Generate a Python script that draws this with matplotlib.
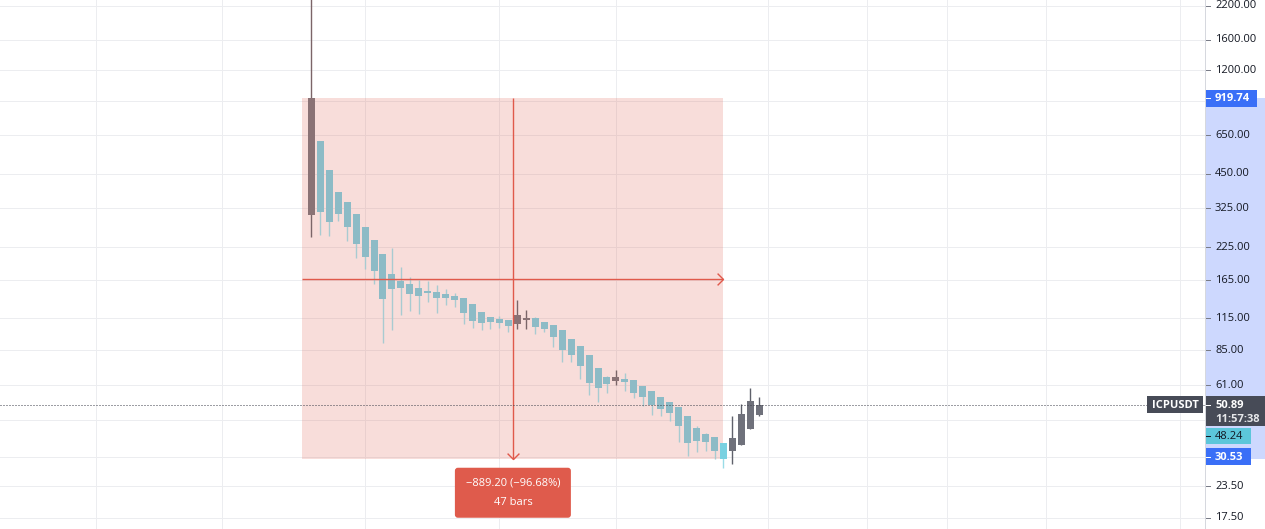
import numpy as np
import matplotlib
matplotlib.use("Agg")
import matplotlib.pyplot as plt
from matplotlib.patches import Rectangle, FancyBboxPatch
from matplotlib.path import Path

plt.rcParams['font.family'] = ['Open Sans', 'DejaVu Sans']

# ---------------- data (Heikin Ashi daily candles, ICPUSDT) ----------------
opens = [305.3, 614.3, 467.0, 379.5, 345.2, 308.3, 272.7, 241.1, 211.3, 174.9,
         163.7, 159.1, 153.2, 149.4, 147.5, 144.7, 142.0, 139.4, 131.7, 122.1,
         116.5, 114.6, 113.6, 109.3, 113.1, 115.3, 111.1, 108.0, 103.0, 94.6,
         88.6, 81.3, 71.9, 66.1, 63.8, 64.8, 64.2, 60.7, 57.9, 54.7,
         52.2, 49.8, 45.7, 40.8, 38.6, 37.5, 35.4, 32.9, 34.8, 40.5, 46.3]
highs = [2850.0, 614.3, 467.0, 379.5, 345.2, 308.3, 272.7, 241.1, 211.3, 223.6,
         186.8, 170.0, 165.2, 163.7, 157.6, 151.8, 146.1, 139.4, 131.7, 122.1,
         116.5, 117.9, 113.6, 136.8, 124.5, 116.5, 111.1, 108.0, 103.0, 94.6,
         88.6, 81.3, 71.9, 66.7, 70.6, 68.6, 64.2, 60.7, 57.9, 54.7,
         52.2, 49.8, 45.7, 41.7, 39.0, 37.5, 35.4, 45.7, 51.3, 59.6, 54.7]
lows = [248.7, 252.7, 250.4, 289.3, 239.4, 204.0, 183.4, 159.1, 91.4, 103.3,
        119.0, 123.6, 120.2, 134.6, 121.3, 130.8, 128.4, 109.3, 105.3, 103.3,
        104.3, 105.3, 101.4, 104.3, 104.0, 99.5, 101.4, 88.0, 76.3, 76.3,
        65.0, 55.9, 52.3, 57.0, 61.4, 58.0, 54.3, 50.4, 46.3, 45.8,
        43.7, 35.8, 31.4, 32.6, 32.9, 30.5, 28.1, 29.1, 34.8, 40.5, 45.8]
closes = [919.74, 315.0, 286.7, 309.2, 273.5, 232.8, 205.9, 180.4, 138.5, 152.2,
          153.7, 145.2, 142.4, 146.5, 139.8, 139.8, 137.2, 121.3, 112.5, 110.4,
          111.4, 110.4, 107.3, 118.7, 115.3, 106.4, 104.3, 96.7, 85.5, 81.6,
          73.5, 62.6, 59.7, 62.0, 66.1, 63.2, 57.0, 54.9, 50.9, 49.0,
          47.2, 41.7, 35.5, 36.2, 35.8, 32.9, 30.53, 37.1, 46.7, 52.7, 50.89]

range_start_bar = -1
range_end_bar = 46
range_start_price = 919.74
range_end_price = 30.53
range_text = "\u2212889.20 (\u221296.68%)"
bars_text = "47 bars"

last_price = 50.89
countdown = "11:57:38"
symbol = "ICPUSDT"
aux_label = "48.24"

tick_values = [17.5, 23.5, 31.0, 44.0, 61.0, 85.0, 115.0, 165.0, 225.0, 325.0,
               450.0, 650.0, 900.0, 1200.0, 1600.0, 2200.0]
hidden_ticks = [31.0, 44.0, 900.0]
vgrid_bars = [-24, -10, 6, 21, 34, 51, 62, 71, 82, 97]

# ---------------- colours ----------------
GRID = '#ECEDF0'
PINK = '#E0584A'
RED = '#E0594B'
TEAL_IN, TEAL_IN_W = '#8DBBC6', '#A8CBD1'
GREY_IN, GREY_IN_W = '#8A7275', '#7B6568'
GREY_OUT, GREY_OUT_W = '#6F717B', '#5F616B'
CYAN, CYAN_W = '#79D1E1', '#9ADCE7'
TXT = '#131722'

W, H = 1265, 529
AXW = 1205
fig = plt.figure(figsize=(W / 100, H / 100), dpi=100)
fig.patch.set_facecolor('white')
ax = fig.add_axes([0, 0, AXW / W, 1])
ax.set_yscale('log')
ax.set_xlim(-34.74, 99.74)
ax.set_ylim(15.72, 2328)
ax.axis('off')

px = 0.72  # one pixel in points

# grid
ax.hlines(tick_values, -40, 110, color=GRID, lw=px, zorder=0)
ax.vlines(vgrid_bars, 10, 3000, color=GRID, lw=px, zorder=0)

# range box
ax.add_patch(Rectangle((range_start_bar, range_end_price),
                       range_end_bar - range_start_bar,
                       range_start_price - range_end_price,
                       facecolor=PINK, alpha=0.2, edgecolor='none', zorder=1))

# candles
n = len(opens)
x = np.arange(n)
o = np.array(opens); c = np.array(closes)
hi = np.array(highs); lo = np.array(lows)
up = c >= o
body_c, wick_c = [], []
for i in range(n):
    inside = range_start_bar <= i < range_end_bar
    if up[i]:
        body_c.append(GREY_IN if inside else GREY_OUT)
        wick_c.append(GREY_IN_W if inside else GREY_OUT_W)
    else:
        body_c.append(TEAL_IN if inside else CYAN)
        wick_c.append(TEAL_IN_W if inside else CYAN_W)
ax.vlines(x, lo, hi, colors=wick_c, lw=1.0, zorder=2)
bot = np.minimum(o, c); top = np.maximum(o, c)
ax.bar(x, top - bot, bottom=bot, width=0.78, color=body_c, edgecolor='none', zorder=3)

# measuring lines
mid_x = (range_start_bar + range_end_bar) / 2
mid_y = np.sqrt(range_start_price * range_end_price)
ax.vlines(mid_x, range_end_price, range_start_price, color=RED, lw=1.0, zorder=4)
ax.hlines(mid_y, range_start_bar, range_end_bar, color=RED, lw=1.0, zorder=4)
down_chev = Path([(-1, 1), (0, 0), (1, 1)], [Path.MOVETO, Path.LINETO, Path.LINETO])
right_chev = Path([(-1, 1), (0, 0), (-1, -1)], [Path.MOVETO, Path.LINETO, Path.LINETO])
ax.plot([mid_x], [range_end_price], marker=down_chev, ms=8.5, mfc='none', mec=RED, mew=1.0, zorder=4)
ax.plot([range_end_bar], [mid_y], marker=right_chev, ms=8.5, mfc='none', mec=RED, mew=1.0, zorder=4)

# last price dotted line
ax.axhline(last_price, color='#3C3F4A', lw=px, ls=(0, (1, 2)), zorder=5)

# ---------------- pixel overlay ----------------
ov = fig.add_axes([0, 0, 1, 1])
ov.set_xlim(0, W)
ov.set_ylim(H, 0)
ov.axis('off')
ov.set_zorder(10)

def py(p):
    return H - ax.transData.transform((0, p))[1]

def pxx(b):
    return ax.transData.transform((b, 100))[0]

# axis border
ov.plot([AXW, AXW], [0, H], color='#D6D8DE', lw=px)
# highlighted price range on axis
y1, y2 = py(range_start_price), py(range_end_price)
ov.add_patch(Rectangle((AXW, y1), W - AXW, y2 - y1, facecolor='#CDD8FE', edgecolor='none'))

for v in tick_values:
    if v in hidden_ticks:
        continue
    yy = py(v)
    ov.plot([AXW + 1, AXW + 5], [yy, yy], color='#787B86', lw=px)
    ov.text(AXW + 10, yy, f"{v:.2f}", fontsize=8, color=TXT, ha='left', va='center')

def axis_label(yc, text, bg, fg, w, bold=True, h=16.5):
    ov.add_patch(Rectangle((AXW, yc - h / 2), w, h, facecolor=bg, edgecolor='none'))
    ov.plot([AXW + 1, AXW + 5], [yc, yc], color=fg, lw=px)
    ov.text(AXW + 10, yc + 0.5, text, fontsize=8, color=fg, ha='left', va='center',
            fontweight='bold' if bold else 'normal')

axis_label(py(range_start_price), f"{range_start_price:.2f}", '#3A6FF7', 'white', 52)
axis_label(py(range_end_price) - 2, f"{range_end_price:.2f}", '#3A6FF7', 'white', 46)

# last price block
yl = py(last_price)
ov.add_patch(Rectangle((AXW, yl - 8.5), W - AXW, 30, facecolor='#474B57', edgecolor='none'))
ov.plot([AXW + 1, AXW + 5], [yl, yl], color='white', lw=px)
ov.text(AXW + 10, yl + 0.5, f"{last_price:.2f}", fontsize=8, color='white', ha='left',
        va='center', fontweight='bold')
ov.text(AXW + 10, yl + 14.5, countdown, fontsize=8, color='#E6E7EA', ha='left',
        va='center', fontweight='bold')
axis_label(yl + 31.5, aux_label, '#5CC6DA', TXT, 46, bold=False)

# symbol label
ov.add_patch(Rectangle((1147, yl - 8.5), 56, 17, facecolor='#474B57', edgecolor='none'))
ov.text(1175, yl + 0.5, symbol, fontsize=8, color='white', ha='center', va='center',
        fontweight='bold')

# measurement info box
cx = pxx(mid_x)
top_y = py(range_end_price) + 9
ov.add_patch(FancyBboxPatch((cx - 58, top_y), 116, 50,
                            boxstyle='round,pad=0,rounding_size=3',
                            facecolor='#DF5B4C', edgecolor='none'))
ov.text(cx, top_y + 15, range_text, fontsize=8, color='white', ha='center', va='center')
ov.text(cx, top_y + 35, bars_text, fontsize=8, color='white', ha='center', va='center')

fig.savefig('out.png', dpi=100, facecolor='white')
